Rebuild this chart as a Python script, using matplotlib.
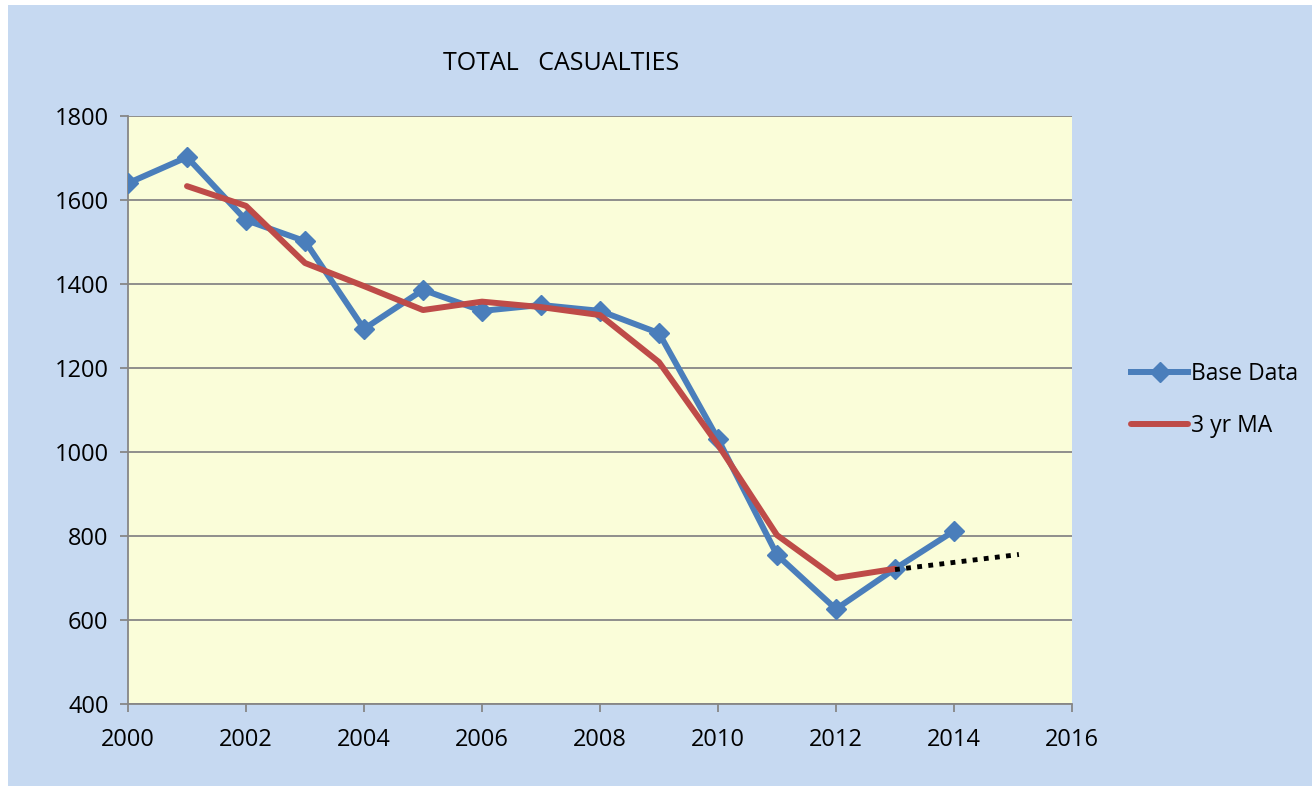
import matplotlib.pyplot as plt
from matplotlib.patches import Rectangle

years = [2000, 2001, 2002, 2003, 2004, 2005, 2006, 2007,
         2008, 2009, 2010, 2011, 2012, 2013, 2014]
base_data = [1640, 1702, 1552, 1502, 1293, 1386, 1336, 1350,
             1336, 1283, 1031, 755, 626, 722, 812]

ma_years = [2001, 2002, 2003, 2004, 2005, 2006, 2007,
            2008, 2009, 2010, 2011, 2012, 2013]
ma_3yr = [1633, 1586, 1450, 1395, 1338, 1358, 1345,
          1326, 1214, 1017, 802, 700, 722]

trend_x = [2013, 2015.1]
trend_y = [720, 756]

plt.rcParams['font.family'] = ['Open Sans', 'DejaVu Sans']

fig = plt.figure(figsize=(13.12, 7.86), dpi=100)
fig.patch.set_facecolor('white')
fig.patches.append(Rectangle((8/1312, 0), 1, 1 - 5/786, transform=fig.transFigure,
                             facecolor='#C6D9F1', edgecolor='none', zorder=-10))

ax = fig.add_axes([128/1312, 82/786, 944/1312, 588/786])
ax.set_facecolor('#FAFDD9')

ax.plot(years, base_data, color='#4A7EBB', lw=4.3, marker='D', ms=10,
        label='Base Data', zorder=3)
ax.plot(ma_years, ma_3yr, color='#BE4B48', lw=4.3, label='3 yr MA',
        solid_capstyle='round', zorder=4)
ax.plot(trend_x, trend_y, color='black', lw=3.5, linestyle=(0, (1, 1.3)),
        dash_capstyle='butt', zorder=5)

ax.set_xlim(2000, 2016)
ax.set_ylim(400, 1800)
ax.set_xticks(range(2000, 2017, 2))
ax.set_yticks(range(400, 1801, 200))
ax.yaxis.grid(True, color='#868686', lw=1.3)
ax.set_axisbelow(True)

for s in ['top', 'right']:
    ax.spines[s].set_visible(False)
for s in ['left', 'bottom']:
    ax.spines[s].set_color('#868686')
    ax.spines[s].set_linewidth(1.3)
ax.tick_params(direction='out', length=6, width=1.3, color='#868686',
               labelsize=17)
ax.tick_params(axis='x', pad=11)
ax.tick_params(axis='y', pad=8)

fig.text(561/1312, 1 - 63/786, 'TOTAL   CASUALTIES', ha='center', va='center',
         fontsize=18)

leg = ax.legend(loc='center left', bbox_to_anchor=(1131/1312, 1 - 400/786),
                bbox_transform=fig.transFigure, frameon=False, fontsize=16.5,
                handlelength=2.5, handletextpad=0.1, labelspacing=1.2,
                borderpad=0, borderaxespad=0)

fig.savefig('out.png', dpi=100)
